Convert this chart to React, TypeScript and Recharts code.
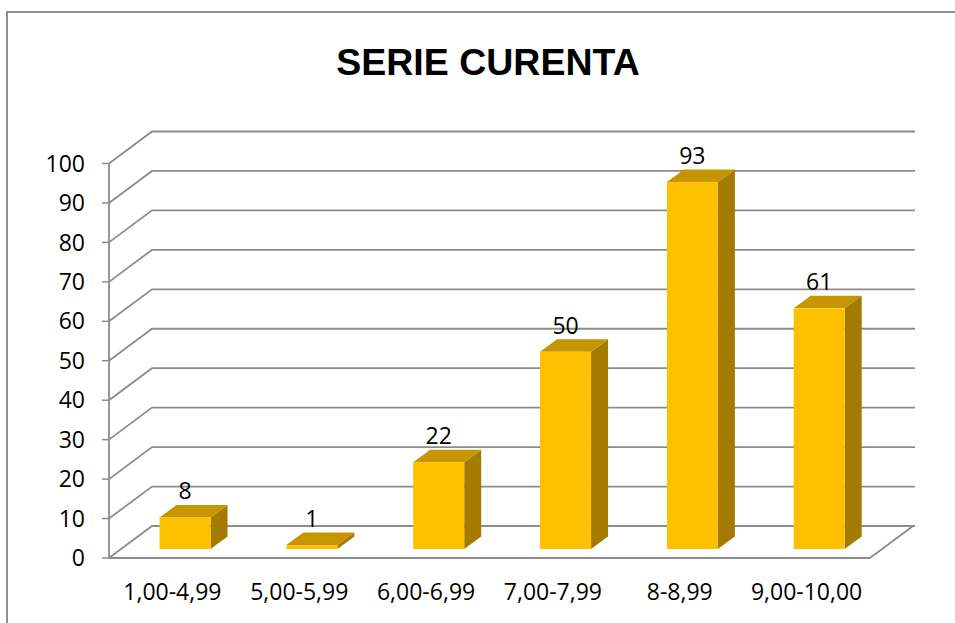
import React from "react";
import { ComposedChart, Bar, XAxis, YAxis, CartesianGrid, LabelList } from "recharts";

const categories = ["1,00-4,99", "5,00-5,99", "6,00-6,99", "7,00-7,99", "8-8,99", "9,00-10,00"];
const values = [8, 1, 22, 50, 93, 61];
const yTicks = [0, 10, 20, 30, 40, 50, 60, 70, 80, 90, 100];
const edgeTicks = [0, 1, 2, 3, 4, 5, 6];

const data = categories.map((c, i) => ({ name: c, value: values[i] }));

const W = 955;
const H = 623;
const FONT = "'Open Sans', 'Liberation Sans', Arial, sans-serif";
const TITLE_FONT = "'Liberation Sans', Arial, sans-serif";
const FS = 23;
const GRID = "#8c8c8c";
// 3D depth of the walls and of the bars
const WALL_DX = 43;
const WALL_DY = 32;
const BAR_OFF_X = 12.5;
const BAR_OFF_Y = 9;
const BAR_DX = 17;
const BAR_DY = 12.5;
const FRONT = "#FFC000";
const TOP = "#C69500";
const SIDE = "#A47B00";

const Box3D = (props: any) => {
  const { x, y, width, height } = props;
  if (x == null || y == null) return null;
  const fx = x + BAR_OFF_X;
  const fy = y - BAR_OFF_Y;
  const h = Math.max(height, 0);
  const top = `${fx},${fy} ${fx + BAR_DX},${fy - BAR_DY} ${fx + width + BAR_DX},${fy - BAR_DY} ${fx + width},${fy}`;
  const side = `${fx + width},${fy} ${fx + width + BAR_DX},${fy - BAR_DY} ${fx + width + BAR_DX},${fy + h - BAR_DY} ${fx + width},${fy + h}`;
  return (
    <g>
      <polygon points={side} fill={SIDE} />
      <polygon points={top} fill={TOP} />
      <rect x={fx} y={fy} width={width} height={h} fill={FRONT} />
    </g>
  );
};

const ValueLabel = (props: any) => {
  const { x, y, width, value } = props;
  return (
    <text
      x={x + BAR_OFF_X + width / 2}
      y={y - BAR_OFF_Y - 18}
      textAnchor="middle"
      fontFamily={FONT}
      fontSize={FS}
      fill="#000"
    >
      {value}
    </text>
  );
};

const GridLine = (props: any) => {
  const { x1, y1, x2, index } = props;
  const isFloor = Math.abs(y1 - (H - 65)) < 1;
  return (
    <g key={`g-${index}-${y1}`}>
      <polyline
        points={`${x1},${y1} ${x1 + WALL_DX},${y1 - WALL_DY} ${x2 + WALL_DX + 2},${y1 - WALL_DY}`}
        fill="none"
        stroke={GRID}
        strokeWidth={1.8}
      />
      {isFloor && (
        <line x1={x2} y1={y1} x2={x2 + WALL_DX} y2={y1 - WALL_DY} stroke={GRID} strokeWidth={1.8} />
      )}
    </g>
  );
};

export default function App() {
  return (
    <div
      style={{
        position: "absolute",
        left: 0,
        top: 0,
        width: W,
        height: H,
        overflow: "hidden",
        background: "#fff",
        fontFamily: FONT,
      }}
    >
      <div
        style={{
          position: "absolute",
          left: 6,
          top: 11,
          width: W,
          height: H,
          borderLeft: "2px solid #8e8e8e",
          borderTop: "2px solid #8e8e8e",
        }}
      />
      <svg width={W} height={110} style={{ position: "absolute", left: 0, top: 0 }}>
        <text x={488} y={75} textAnchor="middle" fontFamily={TITLE_FONT} fontWeight="bold" fontSize={37.5} fill="#000">
          SERIE CURENTA
        </text>
      </svg>
      <div style={{ position: "absolute", left: 0, top: 0 }}>
        <ComposedChart
          width={W}
          height={H}
          data={data}
          margin={{ top: 163.5, right: 85, left: 0, bottom: 0 }}
          barCategoryGap="30%"
        >
          <CartesianGrid vertical={false} horizontal={GridLine} />
          <XAxis
            xAxisId="edges"
            type="number"
            domain={[0, categories.length]}
            ticks={edgeTicks}
            tick={false}
            tickSize={7}
            axisLine={false}
            tickLine={{ stroke: GRID, strokeWidth: 1.5 }}
            height={0}
            allowDataOverflow
          />
          <XAxis
            dataKey="name"
            tickLine={false}
            axisLine={{ stroke: GRID, strokeWidth: 1.8 }}
            tickSize={6}
            tickMargin={20}
            height={65}
            interval={0}
            tick={{ fill: "#000", fontSize: FS, fontFamily: FONT }}
          />
          <YAxis
            domain={[0, 100]}
            ticks={yTicks}
            width={109}
            tickSize={7}
            tickMargin={17}
            interval={0}
            axisLine={{ stroke: GRID, strokeWidth: 1.8 }}
            tickLine={{ stroke: GRID, strokeWidth: 1.5 }}
            tick={{ fill: "#000", fontSize: FS, fontFamily: FONT }}
          />
          <Bar dataKey="value" shape={Box3D} isAnimationActive={false}>
            <LabelList dataKey="value" content={ValueLabel} />
          </Bar>
        </ComposedChart>
      </div>
    </div>
  );
}
